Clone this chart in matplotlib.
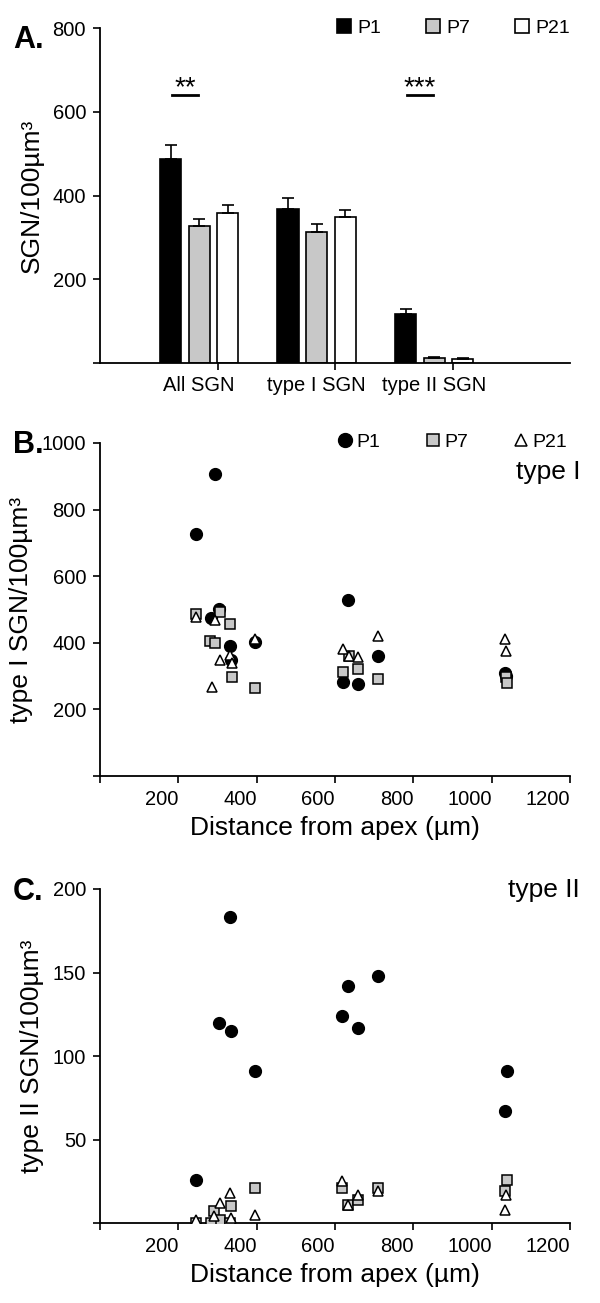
import numpy as np
import matplotlib
matplotlib.use("Agg")
import matplotlib.pyplot as plt
from matplotlib.patches import Patch
from matplotlib.lines import Line2D

plt.rcParams['font.family'] = ['Liberation Sans', 'DejaVu Sans']

# ---- Panel A: mean density per age group ----
categories = ["All SGN", "type I SGN", "type II SGN"]
groups = ["P1", "P7", "P21"]
means = {
    "P1": [487, 368, 117],
    "P7": [327, 313, 12],
    "P21": [359, 348, 10],
}
errors = {
    "P1": [34, 27, 11],
    "P7": [18, 19, 2],
    "P21": [18, 17, 1],
}
sig_labels = ["**", "", "***"]

# ---- Panel B: type I density vs distance from apex ----
b_p1_x = [245, 294, 283, 304, 333, 335, 396, 633, 620, 658, 710, 1034, 1036]
b_p1_y = [728, 908, 473, 501, 391, 348, 401, 529, 283, 275, 361, 308, 300]
b_p7_x = [245, 306, 281, 293, 333, 336, 396, 620, 635, 658, 710, 1036, 1038]
b_p7_y = [486, 493, 406, 398, 455, 296, 263, 313, 361, 320, 292, 298, 280]
b_p21_x = [245, 293, 286, 306, 333, 336, 396, 620, 635, 658, 710, 1034, 1036]
b_p21_y = [476, 468, 266, 348, 363, 340, 412, 382, 361, 358, 421, 412, 375]

# ---- Panel C: type II density vs distance from apex ----
c_p1_x = [244, 303, 332, 335, 396, 619, 633, 658, 710, 1038, 1034]
c_p1_y = [26, 120, 183, 115, 91, 124, 142, 117, 148, 91, 67]
c_p7_x = [244, 292, 306, 283, 335, 332, 396, 619, 633, 658, 710, 1039, 1034]
c_p7_y = [0, 7, 2, 0, 10, 0, 21, 21, 11, 14, 21, 26, 19]
c_p21_x = [244, 292, 306, 332, 335, 396, 619, 633, 658, 710, 1036, 1034]
c_p21_y = [2, 4, 12, 18, 3, 5, 25, 11, 17, 19, 17, 8]

bar_colors = {"P1": "black", "P7": "#c8c8c8", "P21": "white"}
GREY = "#c8c8c8"

W, H = 600, 1303
fig = plt.figure(figsize=(W / 100, H / 100), dpi=100)


def px_axes(top, bottom, left=100, right=570):
    return fig.add_axes([left / W, 1 - bottom / H, (right - left) / W, (bottom - top) / H])


def style_axes(ax):
    for s in ("top", "right"):
        ax.spines[s].set_visible(False)
    for s in ("left", "bottom"):
        ax.spines[s].set_linewidth(1.3)
    ax.tick_params(direction="out", length=5, width=1.2, labelsize=14.5, pad=5)


# Panel A
axA = px_axes(28, 363)
style_axes(axA)
x = np.arange(len(categories))
offsets = {"P1": -0.40, "P7": -0.156, "P21": 0.086}
for g in groups:
    axA.bar(x + offsets[g], means[g], width=0.18, color=bar_colors[g],
            edgecolor="black", linewidth=1.2, zorder=2)
    axA.errorbar(x + offsets[g], means[g],
                 yerr=[np.zeros(len(categories)), errors[g]],
                 fmt="none", ecolor="black", elinewidth=1.2, capsize=4, capthick=1.2, zorder=3)
for i, lab in enumerate(sig_labels):
    if lab:
        axA.plot([i - 0.39, i - 0.165], [639, 639], color="black", lw=2)
        axA.text(i - 0.277, 640, lab, ha="center", va="baseline", fontsize=20)
axA.set_xlim(-1, 3)
axA.set_ylim(0, 800)
# tick marks sit at the right of each group, labels are centred on the group
axA.set_xticks(x)
axA.set_xticklabels([])
axA.set_xticks(x + offsets["P7"], minor=True)
axA.set_xticklabels(categories, minor=True, fontsize=14.5)
axA.tick_params(axis="x", which="minor", length=0, pad=9)
axA.set_yticks([0, 200, 400, 600, 800])
axA.set_yticklabels(["", "200", "400", "600", "800"])
axA.set_ylabel("SGN/100µm³", fontsize=19, labelpad=6)
handlesA = [Patch(facecolor=bar_colors[g], edgecolor="black", linewidth=1.2) for g in groups]
axA.legend(handlesA, groups, ncol=3, frameon=False, loc="center left",
           bbox_to_anchor=(0.504, 1.0), borderpad=0, borderaxespad=0, fontsize=14,
           handlelength=0.75, handleheight=0.7, columnspacing=2.3, handletextpad=0.3)

# Panel B / C scatter
def scatter_panel(ax, p1, p7, p21):
    ax.plot(p1[0], p1[1], "o", ms=8.5, mfc="black", mec="black", ls="none", zorder=3)
    ax.plot(p7[0], p7[1], "s", ms=6.5, mfc=GREY, mec="black", mew=1.1, ls="none", zorder=4)
    ax.plot(p21[0], p21[1], "^", ms=7, mfc="white", mec="black", mew=1.1, ls="none", zorder=5)
    ax.set_xlim(0, 1200)
    ax.set_xticks([0, 200, 400, 600, 800, 1000, 1200])
    ax.set_xticklabels(["", "200", "400", "600", "800", "1000", "1200"], ha="right")
    ax.set_xlabel("Distance from apex (µm)", fontsize=19, labelpad=5)


axB = px_axes(443, 776)
style_axes(axB)
scatter_panel(axB, (b_p1_x, b_p1_y), (b_p7_x, b_p7_y), (b_p21_x, b_p21_y))
axB.set_ylim(0, 1000)
axB.set_yticks([0, 200, 400, 600, 800, 1000])
axB.set_yticklabels(["", "200", "400", "600", "800", "1000"])
axB.set_ylabel("type I SGN/100µm³", fontsize=19, labelpad=6)
handlesB = [
    Line2D([], [], marker="o", ms=10, mfc="black", mec="black", ls="none"),
    Line2D([], [], marker="s", ms=9, mfc=GREY, mec="black", mew=1.1, ls="none"),
    Line2D([], [], marker="^", ms=9, mfc="white", mec="black", mew=1.1, ls="none"),
]
axB.legend(handlesB, groups, ncol=3, frameon=False, loc="center left",
           bbox_to_anchor=(0.504, 1.003), borderpad=0, borderaxespad=0, fontsize=14,
           handlelength=0.8, columnspacing=2.3, handletextpad=0.2)
fig.text(580 / W, 1 - 472 / H, "type I", ha="right", va="center", fontsize=19)

axC = px_axes(889, 1223)
style_axes(axC)
scatter_panel(axC, (c_p1_x, c_p1_y), (c_p7_x, c_p7_y), (c_p21_x, c_p21_y))
axC.set_ylim(0, 200)
axC.set_yticks([0, 50, 100, 150, 200])
axC.set_yticklabels(["", "50", "100", "150", "200"])
axC.set_ylabel("type II SGN/100µm³", fontsize=19, labelpad=6)
fig.text(580 / W, 1 - 890 / H, "type II", ha="right", va="center", fontsize=19)

# panel letters
for lab, ypx in [("A.", 40), ("B.", 445), ("C.", 892)]:
    fig.text(13 / W, 1 - ypx / H, lab, ha="left", va="center", fontsize=22, fontweight="bold")

fig.savefig("out.png", dpi=100)
